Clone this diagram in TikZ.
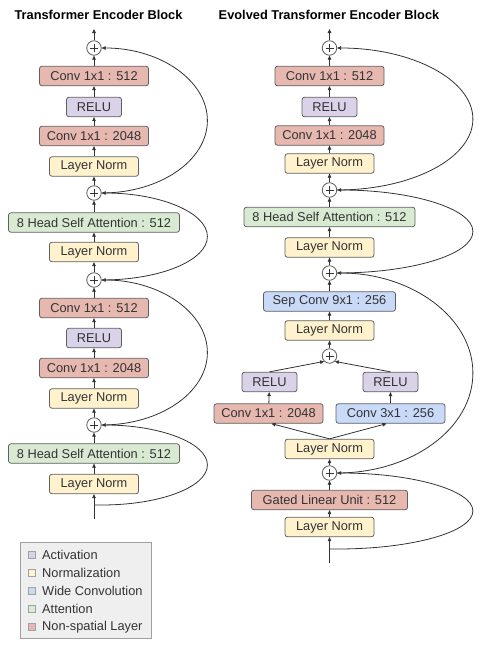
\documentclass[tikz,border=0pt]{standalone}
\usepackage{fontspec}
\setmainfont{Liberation Sans}
\usetikzlibrary{arrows.meta,calc}
\definecolor{redf}{HTML}{E6B8AF}
\definecolor{purf}{HTML}{D9D2E9}
\definecolor{yelf}{HTML}{FFF2CC}
\definecolor{bluf}{HTML}{C9DAF8}
\definecolor{grnf}{HTML}{D9EAD3}
\definecolor{bordc}{HTML}{5F5F5F}
\definecolor{linec}{HTML}{333333}
\definecolor{txtc}{HTML}{333333}
\definecolor{legf}{HTML}{EFEFEF}
\definecolor{legb}{HTML}{A0A0A0}
\begin{document}
\begin{tikzpicture}[x=1pt,y=-1pt,
  blk/.style={draw=bordc, line width=0.8pt, rounded corners=2.5pt, minimum height=19.5pt, inner sep=0pt, font=\fontsize{12.8}{14}\selectfont, text=txtc},
  nonsp/.style={blk, fill=redf},
  act/.style={blk, fill=purf},
  norm/.style={blk, fill=yelf},
  wide/.style={blk, fill=bluf},
  attn/.style={blk, fill=grnf},
  plusn/.style={circle, draw=bordc, fill=white, line width=0.8pt, minimum size=14.5pt, inner sep=0pt,
    path picture={\draw[linec, line width=0.7pt] ([xshift=-4pt]path picture bounding box.center) -- ([xshift=4pt]path picture bounding box.center);
                  \draw[linec, line width=0.7pt] ([yshift=-4pt]path picture bounding box.center) -- ([yshift=4pt]path picture bounding box.center);}},
  conn/.style={draw=linec, line width=0.8pt, -{Triangle[length=4pt,width=3.6pt]}},
  back/.style={draw=linec, line width=0.8pt, {Triangle[length=4pt,width=3.6pt]}-},
  sq/.style={draw=legb, line width=0.6pt, minimum size=7pt, inner sep=0pt},
  legt/.style={anchor=west, inner sep=0pt, font=\fontsize{12.8}{14}\selectfont, text=txtc},
  ttl/.style={font=\bfseries\fontsize{12.8}{14}\selectfont, text=black, inner sep=0pt}
]
\useasboundingbox (0,0) rectangle (490,653);

% titles
\node[ttl] (ttlL) at (98.5,15) {Transformer Encoder Block};
\node[ttl] (ttlR) at (329,15) {Evolved Transformer Encoder Block};

% ---------------- left column ----------------
\coordinate (outL) at (94,29);
\node[plusn] (pL1) at (94,48) {};
\node[nonsp, minimum width=109pt] (cL1) at (94,76) {Conv 1x1 : 512};
\node[act, minimum width=55pt] (rL1) at (94,107) {RELU};
\node[nonsp, minimum width=109pt] (cL2) at (94,136) {Conv 1x1 : 2048};
\node[norm, minimum width=89pt] (nL1) at (94,166.5) {Layer Norm};
\node[plusn] (pL2) at (94,193) {};
\node[attn, minimum width=171pt] (aL1) at (94,222.5) {8 Head Self Attention : 512};
\node[norm, minimum width=89pt] (nL2) at (94,252) {Layer Norm};
\node[plusn] (pL3) at (94,280) {};
\node[nonsp, minimum width=109pt] (cL3) at (94,308) {Conv 1x1 : 512};
\node[act, minimum width=55pt] (rL2) at (94,338) {RELU};
\node[nonsp, minimum width=109pt] (cL4) at (94,368) {Conv 1x1 : 2048};
\node[norm, minimum width=89pt] (nL3) at (94,398.5) {Layer Norm};
\node[plusn] (pL4) at (94,425) {};
\node[attn, minimum width=171pt] (aL2) at (94,453.5) {8 Head Self Attention : 512};
\node[norm, minimum width=89pt] (nL4) at (94,484) {Layer Norm};
\coordinate (brL) at (94,505);
\coordinate (inL) at (94,519);

\draw[conn] (pL1) -- (outL);
\draw[conn] (cL1) -- (pL1);
\draw[conn] (rL1) -- (cL1);
\draw[conn] (cL2) -- (rL1);
\draw[conn] (nL1) -- (cL2);
\draw[conn] (pL2) -- (nL1);
\draw[conn] (aL1) -- (pL2);
\draw[conn] (nL2) -- (aL1);
\draw[conn] (pL3) -- (nL2);
\draw[conn] (cL3) -- (pL3);
\draw[conn] (rL2) -- (cL3);
\draw[conn] (cL4) -- (rL2);
\draw[conn] (nL3) -- (cL4);
\draw[conn] (pL4) -- (nL3);
\draw[conn] (aL2) -- (pL4);
\draw[conn] (nL4) -- (aL2);
\draw[conn] (inL) -- (nL4);

\draw[back] (pL1.east) arc[start angle=-90, end angle=90, x radius=105.75, y radius=72.5];
\draw[back] (pL2.east) arc[start angle=-90, end angle=90, x radius=105.75, y radius=43.5];
\draw[back] (pL3.east) arc[start angle=-90, end angle=90, x radius=105.75, y radius=72.5];
\draw[back] (pL4.east) arc[start angle=-90, end angle=90, x radius=105.75, y radius=40] -- (brL);

% ---------------- right column ----------------
\coordinate (outR) at (329.5,29);
\node[plusn] (pR1) at (329.5,48) {};
\node[nonsp, minimum width=109pt] (cR1) at (329.5,76) {Conv 1x1 : 512};
\node[act, minimum width=55pt] (rR1) at (329.5,107) {RELU};
\node[nonsp, minimum width=109pt] (cR2) at (329.5,135.5) {Conv 1x1 : 2048};
\node[norm, minimum width=89pt] (nR1) at (329.5,163.5) {Layer Norm};
\node[plusn] (pR2) at (329.5,190) {};
\node[attn, minimum width=171pt] (aR1) at (329.5,217) {8 Head Self Attention : 512};
\node[norm, minimum width=89pt] (nR2) at (329.5,247.5) {Layer Norm};
\node[plusn] (pR3) at (329.5,273) {};
\node[wide, minimum width=132pt] (sR1) at (329.5,301.5) {Sep Conv 9x1 : 256};
\node[norm, minimum width=89pt] (nR3) at (329.5,330.5) {Layer Norm};
\node[plusn] (pR5) at (329.5,356) {};
\node[act, minimum width=55pt] (rRL) at (269.5,382) {RELU};
\node[act, minimum width=55pt] (rRR) at (390.5,382) {RELU};
\node[nonsp, minimum width=109pt] (cRL) at (268.5,413.5) {Conv 1x1 : 2048};
\node[wide, minimum width=109pt] (cRR) at (390.5,413.5) {Conv 3x1 : 256};
\node[norm, minimum width=89pt] (nR4) at (329.5,449) {Layer Norm};
\node[plusn] (pR4) at (329.5,473) {};
\node[nonsp, minimum width=156pt] (gR1) at (329.5,500) {Gated Linear Unit : 512};
\node[norm, minimum width=89pt] (nR5) at (329.5,527) {Layer Norm};
\coordinate (brR) at (329.5,549);
\coordinate (inR) at (329.5,563);

\draw[conn] (pR1) -- (outR);
\draw[conn] (cR1) -- (pR1);
\draw[conn] (rR1) -- (cR1);
\draw[conn] (cR2) -- (rR1);
\draw[conn] (nR1) -- (cR2);
\draw[conn] (pR2) -- (nR1);
\draw[conn] (aR1) -- (pR2);
\draw[conn] (nR2) -- (aR1);
\draw[conn] (pR3) -- (nR2);
\draw[conn] (sR1) -- (pR3);
\draw[conn] (nR3) -- (sR1);
\draw[conn] (pR5) -- (nR3);
\draw[conn] (rRL.north) -- (pR5.south west);
\draw[conn] (rRR.north) -- (pR5.south east);
\draw[conn] (cRL) -- (rRL);
\draw[conn] (cRR) -- (rRR);
\draw[conn] (nR4.north) -- ([xshift=3pt]cRL.south);
\draw[conn] (nR4.north) -- ([xshift=-4pt]cRR.south);
\draw[conn] (pR4) -- (nR4);
\draw[conn] (gR1) -- (pR4);
\draw[conn] (nR5) -- (gR1);
\draw[conn] (inR) -- (nR5);

\draw[back] (pR1.east) arc[start angle=-90, end angle=90, x radius=135.75, y radius=71];
\draw[back] (pR2.east) arc[start angle=-90, end angle=90, x radius=135.75, y radius=41.5];
\draw[back] (pR3.east) arc[start angle=-90, end angle=90, x radius=135.75, y radius=100];
\draw[back] (pR4.east) arc[start angle=-90, end angle=90, x radius=135.75, y radius=38] -- (brR);

% ---------------- legend ----------------
\node[draw=legb, fill=legf, line width=0.8pt, minimum width=131pt, minimum height=96pt, inner sep=0pt, anchor=north west] (leg) at (20,542) {};
\node[sq, fill=purf] (q1) at (31.5,555) {};
\node[sq, fill=yelf] (q2) at (31.5,573) {};
\node[sq, fill=bluf] (q3) at (31.5,591) {};
\node[sq, fill=grnf] (q4) at (31.5,609) {};
\node[sq, fill=redf] (q5) at (31.5,627) {};
\node[legt] (l1) at (42,555) {Activation};
\node[legt] (l2) at (42,573) {Normalization};
\node[legt] (l3) at (42,591) {Wide Convolution};
\node[legt] (l4) at (42,609) {Attention};
\node[legt] (l5) at (42,627) {Non-spatial Layer};
\end{tikzpicture}
\end{document}
